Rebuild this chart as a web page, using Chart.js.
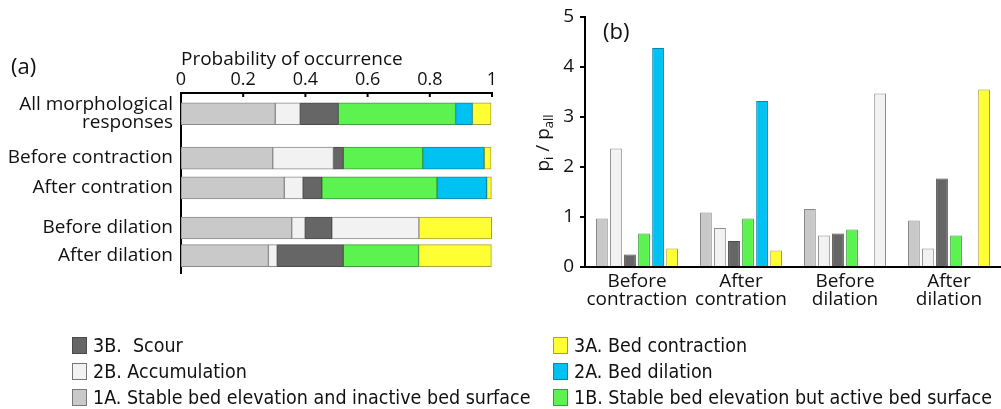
<!DOCTYPE html>
<html>
<head>
<meta charset="utf-8">
<script src="https://cdn.jsdelivr.net/npm/chart.js@4.4.1/dist/chart.umd.min.js"></script>
<style>
html,body{margin:0;padding:0;background:#fff;width:1001px;height:409px;overflow:hidden;font-family:'Open Sans',sans-serif;color:#111;}
#wrapA{position:absolute;left:0;top:0;width:500px;height:280px;}
#wrapB{position:absolute;left:525px;top:0;width:476px;height:320px;}
.panel{position:absolute;font-size:22px;line-height:22px;color:#111;}
#ylabB{position:absolute;left:543px;top:143px;transform:translate(-50%,-50%) rotate(-90deg);font-size:19px;white-space:nowrap;color:#111;}
#ylabB sub{font-size:13px;vertical-align:-4px;}
#legend{position:absolute;left:0;top:0;width:1001px;height:409px;font-family:'DejaVu Sans Condensed','DejaVu Sans',sans-serif;font-stretch:condensed;font-size:19.5px;color:#111;pointer-events:none;}
.item{position:absolute;display:flex;align-items:center;height:24px;white-space:pre;transform:translateY(-50%);}
.sw{width:15px;height:17px;border:1px solid #555;box-sizing:border-box;margin-right:6px;flex:none;}
</style>
</head>
<body>
<div id="wrapA"><canvas id="chartA" width="500" height="280"></canvas></div>
<div id="wrapB"><canvas id="chartB" width="476" height="320"></canvas></div>
<div class="panel" style="left:11px;top:54px;">(a)</div>
<div class="panel" style="left:603px;top:19px;">(b)</div>
<div id="ylabB">p<sub>i</sub> / p<sub>all</sub></div>
<div id="legend"></div>
<script>
// ---------- DATA ----------
const seriesKeys  = ['1A', '2B', '3B', '1B', '2A', '3A'];
const seriesNames = [
  '1A. Stable bed elevation and inactive bed surface',
  '2B. Accumulation',
  '3B.  Scour',
  '1B. Stable bed elevation but active bed surface',
  '2A. Bed dilation',
  '3A. Bed contraction'
];

// Panel (a): probability of occurrence (stacked)
const categoriesA = ['All morphological\nresponses', 'Before contraction', 'After contration', 'Before dilation', 'After dilation'];
const probA_1A = [0.303, 0.295, 0.332, 0.356, 0.281];
const probA_2B = [0.080, 0.195, 0.060, 0.043, 0.028];
const probA_3B = [0.123, 0.032, 0.061, 0.086, 0.213];
const probA_1B = [0.377, 0.255, 0.370, 0.280, 0.242];
const probA_2A = [0.054, 0.198, 0.160, 0.000, 0.000];
const probA_3A = [0.060, 0.022, 0.015, 0.234, 0.234];
const xTicksA  = [0, 0.2, 0.4, 0.6, 0.8, 1];

// Panel (b): p_i / p_all
const categoriesB = ['Before\ncontraction', 'After\ncontration', 'Before\ndilation', 'After\ndilation'];
const ratioB_1A = [0.97, 1.09, 1.16, 0.93];
const ratioB_2B = [2.37, 0.78, 0.63, 0.37];
const ratioB_3B = [0.25, 0.52, 0.67, 1.77];
const ratioB_1B = [0.67, 0.97, 0.75, 0.63];
const ratioB_2A = [4.38, 3.32, 0.00, 0.00];
const ratioB_3A = [0.37, 0.33, 3.47, 3.55];
const yTicksB   = [0, 1, 2, 3, 4, 5];

// ---------- STYLE ----------
const fillColors   = ['#c9c9c9', '#f2f2f2', '#666666', '#5cf24f', '#00c2f2', '#ffff33'];
const borderColors = ['#8a8a8a', '#8a8a8a', '#4a4a4a', '#3a9c3a', '#0a86a8', '#a8a030'];
const LIGHT = '#f2f2f2', LIGHT_BORDER = '#8a8a8a';
// In the original figure, a few marks are drawn in the light "2B" colour
const lightMarkA = {series: '1B', category: 'Before dilation'};
const lightMarkB = {series: '3A', category: 'Before\ndilation'};

Chart.defaults.font.family = "'Open Sans', sans-serif";
Chart.defaults.color = '#111';

const probA  = [probA_1A, probA_2B, probA_3B, probA_1B, probA_2A, probA_3A];
const ratioB = [ratioB_1A, ratioB_2B, ratioB_3B, ratioB_1B, ratioB_2A, ratioB_3A];

// Layout of rows in panel (a) (vertical slots on a 0..13 scale)
const rowSlotsA = [1.5, 4.7, 6.85, 9.75, 11.75];

function colorFor(key, cats, mark, base, light) {
  return cats.map(c => (key === mark.series && c === mark.category) ? light : base);
}

const innerTicksA = {
  id: 'innerTicksA',
  afterDraw(chart) {
    const s = chart.scales.x, ctx = chart.ctx, top = chart.chartArea.top;
    ctx.save();
    ctx.strokeStyle = '#000'; ctx.lineWidth = 2;
    s.ticks.forEach(t => {
      const px = s.getPixelForValue(t.value);
      ctx.beginPath(); ctx.moveTo(px, top); ctx.lineTo(px, top + 4); ctx.stroke();
    });
    ctx.restore();
  }
};

function noPad(s) { s.paddingTop = 0; s.paddingBottom = 0; s.paddingLeft = 0; s.paddingRight = 0; }

new Chart(document.getElementById('chartA'), {
  type: 'bar',
  data: {
    datasets: seriesKeys.map((k, si) => ({
      label: seriesNames[si],
      data: probA[si].map((v, i) => ({x: v, y: rowSlotsA[i]})),
      backgroundColor: colorFor(k, categoriesA, lightMarkA, fillColors[si], LIGHT),
      borderColor: colorFor(k, categoriesA, lightMarkA, borderColors[si], LIGHT_BORDER),
      borderWidth: 1,
      borderSkipped: false,
      barThickness: 22
    }))
  },
  options: {
    indexAxis: 'y',
    responsive: false,
    animation: false,
    devicePixelRatio: 1,
    layout: {padding: {left: 0, top: 0, right: 8, bottom: 7}},
    plugins: {legend: {display: false}, tooltip: {enabled: false}},
    scales: {
      x: {
        type: 'linear', position: 'top', stacked: true, min: 0, max: 1,
        afterBuildTicks: s => { s.ticks = xTicksA.map(v => ({value: v})); },
        afterFit: s => { s.height = 93; noPad(s); },
        ticks: {font: {size: 18}, color: '#111', padding: 2, maxRotation: 0, autoSkip: false,
                callback: v => String(v)},
        grid: {display: false, drawTicks: false},
        border: {display: true, color: '#000', width: 2},
        title: {display: true, text: 'Probability of occurrence', align: 'start',
                font: {size: 19}, color: '#111', padding: {top: 48, bottom: 0}}
      },
      y: {
        type: 'linear', stacked: true, reverse: true, min: 0, max: 13, offset: false,
        afterBuildTicks: s => { s.ticks = rowSlotsA.map(v => ({value: v})); },
        afterFit: s => { s.width = 181; noPad(s); },
        ticks: {
          font: {size: 19, lineHeight: 0.95}, color: '#111', padding: 8, autoSkip: false,
          callback: v => {
            const i = rowSlotsA.indexOf(v);
            const lab = i >= 0 ? categoriesA[i] : '';
            return lab.includes('\n') ? lab.split('\n') : lab;
          }
        },
        grid: {display: false, drawTicks: false, offset: false},
        border: {display: true, color: '#000', width: 2}
      }
    }
  },
  plugins: [innerTicksA]
});

new Chart(document.getElementById('chartB'), {
  type: 'bar',
  data: {
    labels: categoriesB,
    datasets: seriesKeys.map((k, si) => ({
      label: seriesNames[si],
      data: ratioB[si],
      backgroundColor: colorFor(k, categoriesB, lightMarkB, fillColors[si], LIGHT),
      borderColor: colorFor(k, categoriesB, lightMarkB, borderColors[si], LIGHT_BORDER),
      borderWidth: 1,
      borderSkipped: 'bottom',
      categoryPercentage: 0.81,
      barPercentage: 0.84
    }))
  },
  options: {
    responsive: false,
    animation: false,
    devicePixelRatio: 1,
    layout: {padding: {left: 0, top: 17, right: 0, bottom: 0}},
    plugins: {legend: {display: false}, tooltip: {enabled: false}},
    scales: {
      x: {
        afterFit: s => { s.height = 53; noPad(s); },
        ticks: {font: {size: 19, lineHeight: 0.98}, color: '#111', padding: 5, maxRotation: 0, autoSkip: false,
                callback: function(v, i) { return categoriesB[i].split('\n'); }},
        grid: {display: false, drawTicks: false},
        border: {display: true, color: '#000', width: 2}
      },
      y: {
        min: 0, max: 5,
        afterBuildTicks: s => { s.ticks = yTicksB.map(v => ({value: v})); },
        afterFit: s => { s.width = 60; noPad(s); },
        ticks: {font: {size: 19}, color: '#111', padding: 6, autoSkip: false},
        grid: {display: true, drawOnChartArea: false, drawTicks: true, tickLength: 5,
               color: '#000', lineWidth: 2},
        border: {display: true, color: '#000', width: 2}
      }
    }
  }
});

// ---------- LEGEND (HTML, from the series arrays) ----------
const legendColumns = [['3B', '2B', '1A'], ['3A', '2A', '1B']];
const legendColX = [72, 553];
const legendRowY = [345, 371, 397];
const legend = document.getElementById('legend');
legendColumns.forEach((col, ci) => col.forEach((key, ri) => {
  const si = seriesKeys.indexOf(key);
  const item = document.createElement('div');
  item.className = 'item';
  item.style.left = legendColX[ci] + 'px';
  item.style.top = legendRowY[ri] + 'px';
  const sw = document.createElement('span');
  sw.className = 'sw';
  sw.style.background = fillColors[si];
  sw.style.borderColor = borderColors[si] === '#8a8a8a' ? '#777' : borderColors[si];
  const tx = document.createElement('span');
  tx.textContent = seriesNames[si];
  item.appendChild(sw); item.appendChild(tx);
  legend.appendChild(item);
}));
</script>
</body>
</html>
